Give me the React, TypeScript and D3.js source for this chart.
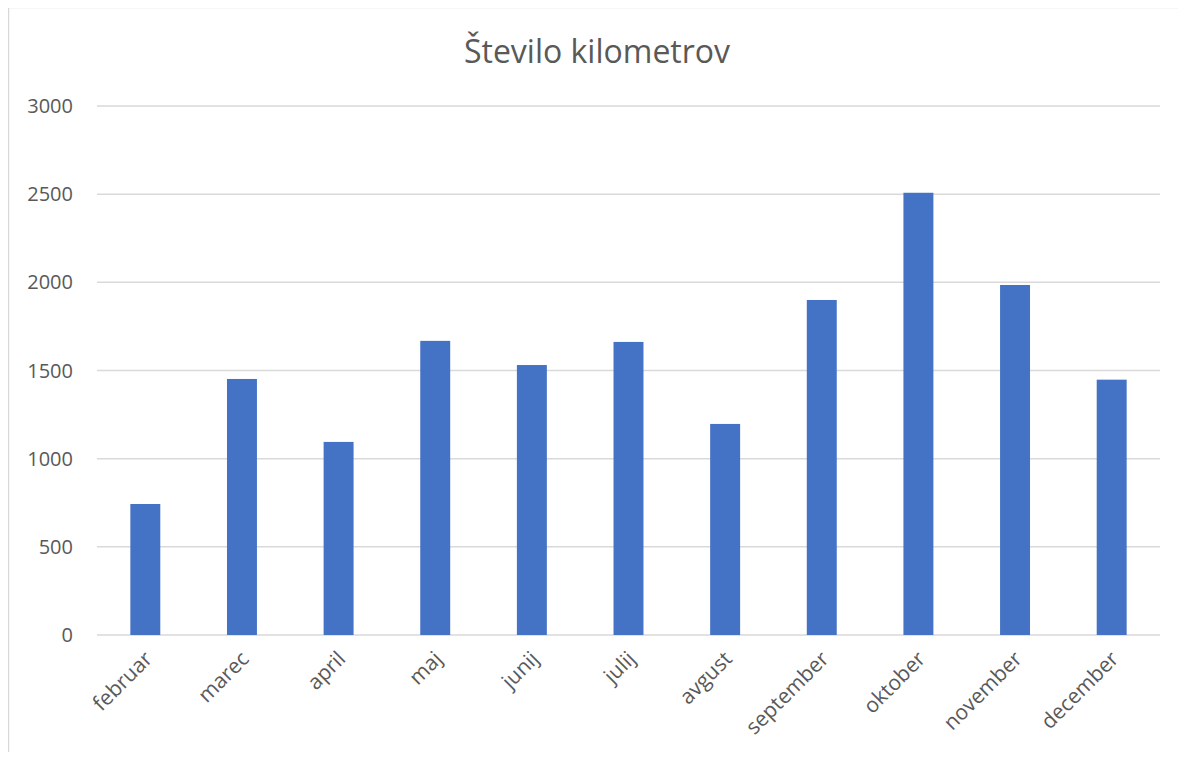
import { scaleBand, scaleLinear } from "d3";
import { FC } from "react";

const months = [
  "februar", "marec", "april", "maj", "junij", "julij",
  "avgust", "september", "oktober", "november", "december"
];
const kilometers = [743, 1452, 1095, 1668, 1531, 1662, 1197, 1900, 2508, 1985, 1448];
const yTicks = [0, 500, 1000, 1500, 2000, 2500, 3000];

// svg sits inside the body's 8px margin, kept small enough to avoid scrollbars
const width = 1170;
const height = 744;
const margin = { left: 89, right: 18, top: 98, bottom: 117 };
const font = "'Open Sans', 'Noto Sans', sans-serif";

const App: FC = () => {
  const xScale = scaleBand<string>()
    .domain(months)
    .range([margin.left, width - margin.right])
    .paddingInner(0.69)
    .paddingOuter(0.345);

  const yScale = scaleLinear()
    .domain([0, 3000])
    .range([height - margin.bottom, margin.top]);

  return (
    <svg width={width} height={height} style={{ display: "block", overflow: "visible" }}>
      {/* chart area border: only top and left edges are inside the shot */}
      <path d={`M0.5,${height + 8}V-0.5H${width + 8}`} fill="none" stroke="#d9d9d9" strokeWidth={1.5} />
      <text x={589} y={55} textAnchor="middle" fontFamily={font} fontSize={32} fill="#595959">
        Število kilometrov
      </text>

      {/* gridlines + y labels */}
      {yTicks.map((t) => (
        <g key={t}>
          <line
            x1={margin.left}
            x2={width - margin.right}
            y1={yScale(t)}
            y2={yScale(t)}
            stroke="#d9d9d9"
            strokeWidth={1.5}
          />
          <text
            x={65}
            y={yScale(t)}
            dy="0.35em"
            textAnchor="end"
            fontFamily={font}
            fontSize={20}
            fill="#595959"
          >
            {t}
          </text>
        </g>
      ))}

      {/* bars */}
      {months.map((m, i) => (
        <rect
          key={m}
          x={xScale(m)!}
          y={yScale(kilometers[i])}
          width={xScale.bandwidth()}
          height={yScale(0) - yScale(kilometers[i])}
          fill="#4472C4"
        />
      ))}

      {/* x labels */}
      {months.map((m) => {
        const cx = xScale(m)! + xScale.bandwidth() / 2 + 3;
        const cy = yScale(0) + 20;
        return (
          <text
            key={m}
            transform={`translate(${cx},${cy}) rotate(-45)`}
            textAnchor="end"
            dy="0.35em"
            fontFamily={font}
            fontSize={21}
            fill="#595959"
          >
            {m}
          </text>
        );
      })}
    </svg>
  );
};

export default App;
